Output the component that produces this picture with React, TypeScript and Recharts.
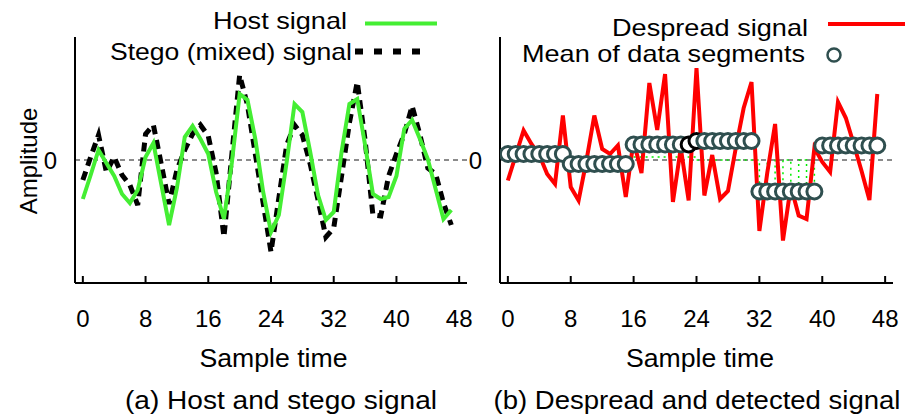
import React from 'react';
import { ComposedChart, Line, XAxis, YAxis, ReferenceLine } from 'recharts';

const FONT = '"Liberation Sans", Arial, Helvetica, sans-serif';

const sampleTimes = [
  0, 1, 2, 3, 4, 5, 6, 7, 8, 9, 10, 11, 12, 13, 14, 15,
  16, 17, 18, 19, 20, 21, 22, 23, 24, 25, 26, 27, 28, 29, 30, 31,
  32, 33, 34, 35, 36, 37, 38, 39, 40, 41, 42, 43, 44, 45, 46, 47,
];
const xTicks = [0, 8, 16, 24, 32, 40, 48];
const yTicks = [0];

const hostSignal = [
  -3.9, -1.5, 1.0, -0.3, -1.6, -3.4, -4.3, -3.0, 0.3, 1.7, -2.4, -6.5, -2.8, 2.3, 3.4, 2.1,
  0.6, -3.2, -5.9, -0.3, 6.6, 6.0, 2.1, -3.2, -7.2, -5.5, -0.2, 5.6, 4.8, 0.8, -3.5, -6.0,
  -5.2, 0.8, 5.6, 6.1, 1.5, -3.4, -3.9, -3.7, -1.6, 3.1, 4.0, 2.1, 0.1, -2.9, -5.9, -5.0,
];
const stegoSignal = [
  -2.0, 0.3, 2.5, -1.2, 0.3, -1.5, -2.5, -4.5, 2.6, 3.5, -0.4, -4.4, -1.0, 1.0, 2.6, 3.5,
  2.4, -1.3, -7.7, 0.5, 8.5, 5.5, 0.6, -4.3, -9.2, -3.8, 1.5, 3.5, 2.5, -0.4, -4.0, -7.7,
  -6.8, -1.6, 3.7, 7.8, 2.0, -5.5, -5.6, -1.6, 0.6, 2.6, 5.4, 2.5, -0.8, -1.4, -4.3, -6.5,
];
const despreadSignal = [
  -2.05, 0.45, 2.95, 1.6, 0.5, -1.4, -2.4, 4.45, -2.7, -4.05, -0.05, 4.45, 1.1, 0.6, 1.45, -3.7,
  1.95, -1.3, 7.7, 3.0, 8.6, -4.2, 1.2, -4.05, 9.2, -3.55, 0.5, -3.9, -3.1, 1.2, 5.2, 7.8,
  -7.1, -1.3, 3.6, -8.05, -2.6, -5.55, -5.9, 1.2, -0.2, -1.2, 5.8, 4.2, 1.6, -1.1, -4.0, 6.6,
];
const segmentMeans = [
  0.6, 0.6, 0.6, 0.6, 0.6, 0.6, 0.6, 0.6,
  -0.4, -0.4, -0.4, -0.4, -0.4, -0.4, -0.4, -0.4,
  1.55, 1.55, 1.55, 1.55, 1.55, 1.55, 1.55, 1.55,
  1.9, 1.9, 1.9, 1.9, 1.9, 1.9, 1.9, 1.9,
  -3.15, -3.15, -3.15, -3.15, -3.15, -3.15, -3.15, -3.15,
  1.45, 1.45, 1.45, 1.45, 1.45, 1.45, 1.45, 1.45,
];
const highlightedMeans = [23, 24];
const dataMarkTimes = [16, 24, 32, 33, 34, 35, 36, 37, 38, 39];
const dataMarkValues = [0.3, 0, -2.4, 0, -2.4, 0, -2.4, 0, -2.4, 0];

const leftRows = sampleTimes.map((t, i) => ({ t, host: hostSignal[i], stego: stegoSignal[i] }));
const rightRows = sampleTimes.map((t, i) => ({ t, despread: despreadSignal[i], mean: segmentMeans[i] }));
const dataMarkRows = dataMarkTimes.map((t, i) => ({ t, mark: dataMarkValues[i] }));

const Y_DOMAIN: [number, number] = [-12.3, 12.3];
const X_DOMAIN: [number, number] = [-1, 49];

const XTick = (props: any) => {
  const { x, y, payload } = props;
  return (
    <g>
      <line x1={x} x2={x} y1={y} y2={y - 7} stroke="#000" strokeWidth={2} />
      <text x={x} y={y + 44} textAnchor="middle" fontSize={24} fontFamily={FONT} fill="#000">
        {payload.value}
      </text>
    </g>
  );
};

const MeanDot = (props: any) => {
  const { cx, cy, index } = props;
  if (cx == null || cy == null) return <g key={`m-${index}`} />;
  const dark = highlightedMeans.includes(index);
  return (
    <circle
      key={`m-${index}`}
      cx={cx}
      cy={cy}
      r={7.5}
      fill="#fff"
      stroke={dark ? '#000' : '#2f4f4f'}
      strokeWidth={3}
    />
  );
};

const axisStyle = { stroke: '#000', strokeWidth: 2 };
const yTickStyle = { fontSize: 24, fill: '#000', fontFamily: FONT };

function commonAxes() {
  return [
    <XAxis
      key="x"
      type="number"
      dataKey="t"
      domain={X_DOMAIN}
      ticks={xTicks}
      interval={0}
      allowDataOverflow
      tickLine={false}
      tickSize={0}
      tickMargin={0}
      tick={(p: any) => <XTick {...p} />}
      axisLine={axisStyle}
      height={30}
    />,
    <YAxis
      key="y"
      type="number"
      domain={Y_DOMAIN}
      ticks={yTicks}
      interval={0}
      allowDataOverflow
      tickLine={false}
      tickSize={0}
      tickMargin={18}
      tick={yTickStyle}
      axisLine={axisStyle}
      width={40}
    />,
    <ReferenceLine key="z" y={0} stroke="#666" strokeWidth={1.5} strokeDasharray="5 4" />,
  ];
}

export default function App() {
  return (
    <div style={{ position: 'absolute', left: 0, top: 0, width: 905, height: 416, background: '#fff', overflow: 'hidden' }}>
      <div style={{ position: 'absolute', left: 0, top: 0 }}>
        <ComposedChart width={480} height={416} data={leftRows} margin={{ top: 37, right: 13, bottom: 103, left: 35 }}>
          {commonAxes()}
          <Line
            type="linear"
            dataKey="stego"
            stroke="#000"
            strokeWidth={5}
            strokeDasharray="9 6"
            dot={false}
            isAnimationActive={false}
          />
          <Line
            type="linear"
            dataKey="host"
            stroke="#44ee33"
            strokeWidth={4}
            dot={false}
            isAnimationActive={false}
          />
        </ComposedChart>
      </div>
      <div style={{ position: 'absolute', left: 440, top: 0 }}>
        <ComposedChart width={465} height={416} data={rightRows} margin={{ top: 37, right: 12, bottom: 103, left: 20 }}>
          {commonAxes()}
          <Line
            type="stepAfter"
            data={dataMarkRows}
            dataKey="mark"
            stroke="#00ee00"
            strokeWidth={1.5}
            strokeDasharray="2 4"
            dot={false}
            isAnimationActive={false}
          />
          <Line
            type="linear"
            dataKey="despread"
            stroke="#ff0000"
            strokeWidth={4}
            dot={false}
            isAnimationActive={false}
          />
          <Line
            type="linear"
            dataKey="mean"
            stroke="none"
            dot={(p: any) => <MeanDot {...p} />}
            isAnimationActive={false}
          />
        </ComposedChart>
      </div>
      <svg
        width={905}
        height={416}
        style={{ position: 'absolute', left: 0, top: 0, pointerEvents: 'none' }}
        fontFamily={FONT}
        fill="#000"
      >
        {/* left legend */}
        <text x={347} y={29} textAnchor="end" fontSize={24} textLength={134} lengthAdjust="spacingAndGlyphs">Host signal</text>
        <line x1={365} x2={437} y1={23.5} y2={23.5} stroke="#44ee33" strokeWidth={4} />
        <text x={352} y={60} textAnchor="end" fontSize={24} textLength={242} lengthAdjust="spacingAndGlyphs">Stego (mixed) signal</text>
        <line x1={355} x2={428} y1={51.5} y2={51.5} stroke="#000" strokeWidth={6} strokeDasharray="8 11" />
        {/* right legend */}
        <text x={808} y={36} textAnchor="end" fontSize={24} textLength={196} lengthAdjust="spacingAndGlyphs">Despread signal</text>
        <line x1={828} x2={905} y1={24} y2={24} stroke="#ff0000" strokeWidth={4} />
        <text x={805} y={62} textAnchor="end" fontSize={24} textLength={283} lengthAdjust="spacingAndGlyphs">Mean of data segments</text>
        <circle cx={834} cy={55} r={6.5} fill="#fff" stroke="#2f4f4f" strokeWidth={2.5} />
        {/* axis titles */}
        <text x={37} y={161} textAnchor="middle" fontSize={24} transform="rotate(-90 37 161)">Amplitude</text>
        <text x={273.5} y={367} textAnchor="middle" fontSize={25} textLength={148} lengthAdjust="spacingAndGlyphs">Sample time</text>
        <text x={700} y={367} textAnchor="middle" fontSize={25} textLength={148} lengthAdjust="spacingAndGlyphs">Sample time</text>
        {/* captions */}
        <text x={281} y={409} textAnchor="middle" fontSize={25} textLength={312} lengthAdjust="spacingAndGlyphs">(a) Host and stego signal</text>
        <text x={697} y={409} textAnchor="middle" fontSize={25} textLength={407} lengthAdjust="spacingAndGlyphs">(b) Despread and detected signal</text>
      </svg>
    </div>
  );
}
